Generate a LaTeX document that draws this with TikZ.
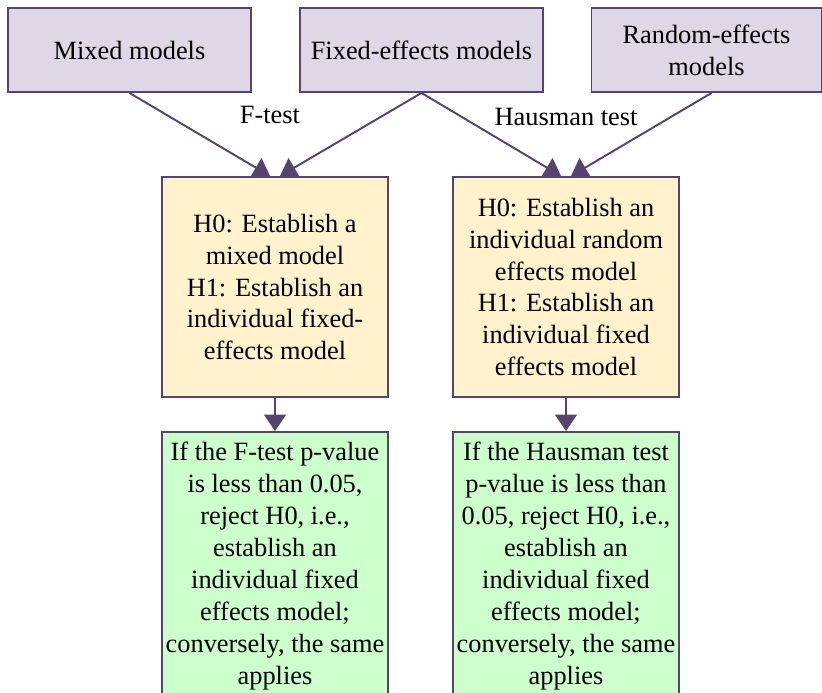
\documentclass[tikz,border=0pt]{standalone}
\usepackage{xcolor}
\usepackage{fontspec}
\setmainfont{Liberation Serif}
\usepackage{tikz}
\usetikzlibrary{arrows.meta}

\begin{document}
\begin{tikzpicture}[scale=1,
    every node/.style={font=\fontsize{15pt}{18.2pt}\selectfont, align=center},
    modelbox/.style={draw=bordeM, fill=lilaM, line width=1.1pt, minimum height=1.68cm, minimum width=4.86cm},
    hypbox/.style={draw=bordeM, fill=amarilloH, line width=1.1pt, minimum height=4.4cm, minimum width=4.52cm, inner sep=1pt},
    rulebox/.style={draw=bordeM, fill=verdeR, line width=1.1pt, minimum height=5.36cm, minimum width=4.52cm, inner sep=1pt},
    flecha/.style={draw=bordeM, line width=1.1pt, -{Triangle[length=3.3mm, width=4.4mm]}}]
    
    % Definimos colores
    \definecolor{bordeM}{RGB}{84,68,110}     % Morado oscuro
    \definecolor{lilaM}{RGB}{221,215,230}    % Lila claro
    \definecolor{amarilloH}{RGB}{255,242,204} % Amarillo claro
    \definecolor{verdeR}{RGB}{204,255,204}   % Verde claro
    
    \path[use as bounding box, clip] (0,0) rectangle (16.44,13.86);
    
    % Modelos
    \node[modelbox] (mixed) at (2.59,12.86) {Mixed models};
    \node[modelbox] (fixed) at (8.43,12.86) {Fixed-effects models};
    \node[modelbox, minimum width=4.6cm] (random) at (14.13,12.86) {Random-effects\\models};
    
    % Hipotesis
    \node[hypbox] (hypF) at (5.50,8.12) {H0: Establish a\\mixed model\\H1: Establish an\\individual fixed-\\effects model};
    \node[hypbox] (hypH) at (11.32,8.12) {H0: Establish an\\individual random\\effects model\\H1: Establish an\\individual fixed\\effects model};
    
    % Reglas de decision
    \node[rulebox] (ruleF) at (5.50,2.54) {If the F-test p-value\\is less than 0.05,\\reject H0, i.e.,\\establish an\\individual fixed\\effects model;\\conversely, the same\\applies};
    \node[rulebox] (ruleH) at (11.32,2.54) {If the Hausman test\\p-value is less than\\0.05, reject H0, i.e.,\\establish an\\individual fixed\\effects model;\\conversely, the same\\applies};
    
    % Etiquetas de los tests
    \node (ftest) at (5.40,11.56) {F-test};
    \node (htest) at (11.32,11.52) {Hausman test};
    
    % Conexiones
    \draw[flecha] (mixed.south) -- ([xshift=-1mm]hypF.north);
    \draw[flecha] (fixed.south) -- ([xshift=1mm]hypF.north);
    \draw[flecha] (fixed.south) -- ([xshift=-1mm]hypH.north);
    \draw[flecha] ([xshift=1mm]random.south) -- ([xshift=1mm]hypH.north);
    \draw[flecha] (hypF) -- (ruleF);
    \draw[flecha] (hypH) -- (ruleH);

\end{tikzpicture}
\end{document}
